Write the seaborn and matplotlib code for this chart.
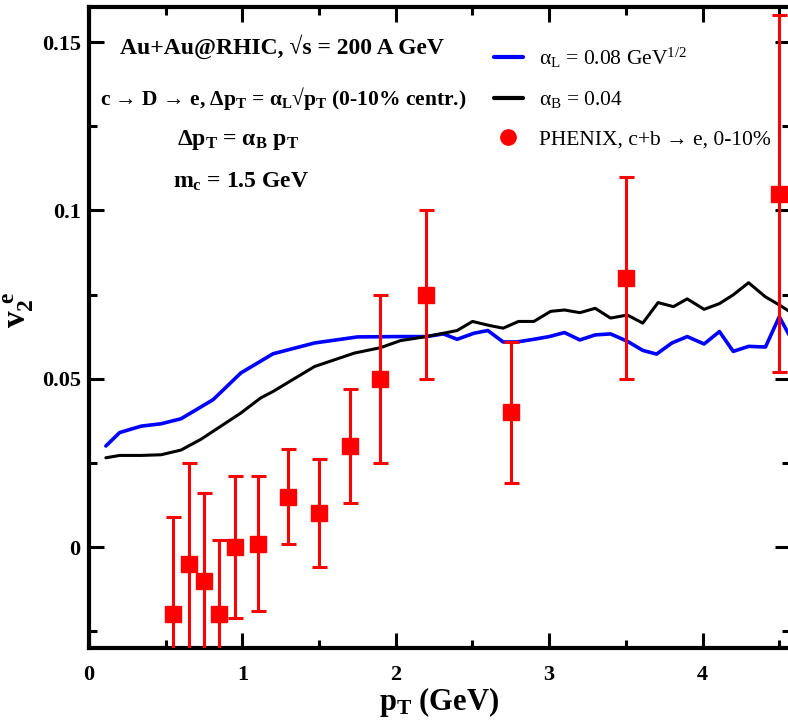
import numpy as np
import pandas as pd
import matplotlib
matplotlib.use("Agg")
import matplotlib.pyplot as plt
from matplotlib.lines import Line2D
from matplotlib.ticker import MultipleLocator
import seaborn as sns

# Model curves: electron v2 vs pT for two energy-loss scenarios
pt_L = [0.11, 0.20, 0.34, 0.47, 0.60, 0.70, 0.81, 0.99, 1.20, 1.47, 1.75, 2.01, 2.20,
        2.31, 2.40, 2.51, 2.60, 2.70, 2.79, 2.90, 3.00, 3.10, 3.20, 3.30, 3.40, 3.51,
        3.61, 3.70, 3.80, 3.90, 4.01, 4.11, 4.20, 4.30, 4.41, 4.50, 4.60]
v2_L = [0.0300, 0.0340, 0.0359, 0.0366, 0.0381, 0.0408, 0.0438, 0.0517, 0.0574, 0.0606,
        0.0624, 0.0625, 0.0625, 0.0633, 0.0617, 0.0635, 0.0643, 0.0609, 0.0609, 0.0617,
        0.0625, 0.0637, 0.0615, 0.0630, 0.0633, 0.0611, 0.0584, 0.0573, 0.0606, 0.0625,
        0.0603, 0.0640, 0.0581, 0.0596, 0.0594, 0.0684, 0.0600]

pt_B = [0.11, 0.20, 0.34, 0.47, 0.60, 0.73, 0.86, 0.99, 1.12, 1.20, 1.47, 1.73, 1.90,
        2.03, 2.20, 2.40, 2.50, 2.61, 2.70, 2.80, 2.90, 3.01, 3.10, 3.20, 3.30, 3.40,
        3.51, 3.61, 3.71, 3.81, 3.90, 4.01, 4.11, 4.20, 4.30, 4.41, 4.50, 4.60]
v2_B = [0.0265, 0.0272, 0.0272, 0.0274, 0.0288, 0.0320, 0.0359, 0.0398, 0.0443, 0.0462,
        0.0536, 0.0576, 0.0592, 0.0613, 0.0625, 0.0643, 0.0670, 0.0658, 0.0650, 0.0670,
        0.0670, 0.0700, 0.0704, 0.0696, 0.0709, 0.0680, 0.0689, 0.0665, 0.0726, 0.0714,
        0.0737, 0.0706, 0.0723, 0.0749, 0.0785, 0.0743, 0.0719, 0.0690]

# PHENIX non-photonic electron v2, 0-10% centrality
pt_data = [0.55, 0.65, 0.75, 0.85, 0.95, 1.10, 1.30, 1.50, 1.70, 1.90, 2.20, 2.75, 3.50, 4.50]
v2_data = [-0.020, -0.005, -0.010, -0.020, 0.000, 0.001, 0.015, 0.010, 0.030, 0.050,
           0.075, 0.040, 0.080, 0.105]
v2_err = [0.029, 0.030, 0.026, 0.022, 0.021, 0.020, 0.014, 0.016, 0.017, 0.025,
          0.025, 0.021, 0.030, 0.053]

x_ticks = [0, 1, 2, 3, 4]
y_ticks = [0, 0.05, 0.1, 0.15]
y_tick_labels = ["0", "0.05", "0.1", "0.15"]

sns.set_style("ticks", {"axes.edgecolor": "black", "xtick.color": "black",
                        "ytick.color": "black", "text.color": "black",
                        "axes.labelcolor": "black"})
plt.rcParams["font.family"] = ["Liberation Serif", "DejaVu Serif"]
plt.rcParams["mathtext.default"] = "regular"

fig = plt.figure(figsize=(7.88, 7.27), dpi=100)
W, H = 788, 727
ax = fig.add_axes([89 / W, (H - 648) / H, (790 - 89) / W, (648 - 7) / H])

curve_L = pd.DataFrame({"pt": pt_L, "v2": v2_L})
curve_B = pd.DataFrame({"pt": pt_B, "v2": v2_B})
sns.lineplot(data=curve_L, x="pt", y="v2", color="#0000ff", lw=2.6, ax=ax,
             sort=False, estimator=None)
sns.lineplot(data=curve_B, x="pt", y="v2", color="black", lw=2.2, ax=ax,
             sort=False, estimator=None)

ax.errorbar(pt_data, v2_data, yerr=v2_err, fmt="s", color="#ff0000", ms=11.5,
            elinewidth=2.2, capsize=5.4, capthick=2.2, zorder=5)

ax.set_xlim(0, 4.57)
ax.set_ylim(-0.03, 0.1604)
ax.set_xticks(x_ticks)
ax.set_xticklabels([str(t) for t in x_ticks])
ax.set_yticks(y_ticks)
ax.set_yticklabels(y_tick_labels)
ax.xaxis.set_minor_locator(MultipleLocator(0.5))
ax.yaxis.set_minor_locator(MultipleLocator(0.025))
ax.tick_params(which="both", direction="in", top=True, right=True, width=2.2,
               labelsize=16)
ax.tick_params(axis="x", pad=12)
ax.tick_params(axis="y", pad=6)
ax.tick_params(which="major", length=11)
ax.tick_params(which="minor", length=5.5)
for lab in ax.get_xticklabels() + ax.get_yticklabels():
    lab.set_fontweight("bold")
for sp in ax.spines.values():
    sp.set_linewidth(3)
    sp.set_color("black")

ax.set_xlabel("p$_T$ (GeV)", fontsize=22, fontweight="bold", labelpad=0)
ax.set_ylabel("v$_2^{\\ e}$", fontsize=24, fontweight="bold")
ax.yaxis.set_label_coords((36 - 89) / 701, (648 - 310) / 641)

txt = dict(transform=fig.transFigure, fontsize=17, fontweight="bold", va="center")
fig.text(120 / W, 1 - 47 / H, "Au+Au@RHIC, √s = 200 A GeV", **txt)
fig.text(100 / W, 1 - 99 / H,
         "c → D → e, Δp$_T$ = α$_L$√p$_T$ (0-10% centr.)", fontsize=15.5,
         transform=fig.transFigure, fontweight="bold", va="center")
fig.text(177 / W, 1 - 140 / H, "Δp$_T$ = α$_B$ p$_T$", **txt)
fig.text(173 / W, 1 - 182 / H, "m$_c$ = 1.5 GeV", **txt)

handles = [
    Line2D([], [], color="#0000ff", lw=3),
    Line2D([], [], color="black", lw=3),
    Line2D([], [], color="#ff0000", marker="o", ls="none", ms=11),
]
labels = ["α$_L$ = 0.08 GeV$^{1/2}$", "α$_B$ = 0.04", "PHENIX, c+b → e, 0-10%"]
ax.legend(handles, labels, loc="upper left", bbox_to_anchor=(483 / W, 1 - 35 / H),
          bbox_transform=fig.transFigure, frameon=False, fontsize=15.5,
          handlelength=1.35, handletextpad=0.75, labelspacing=0.9, borderpad=0)

fig.savefig("out.png", dpi=100)
